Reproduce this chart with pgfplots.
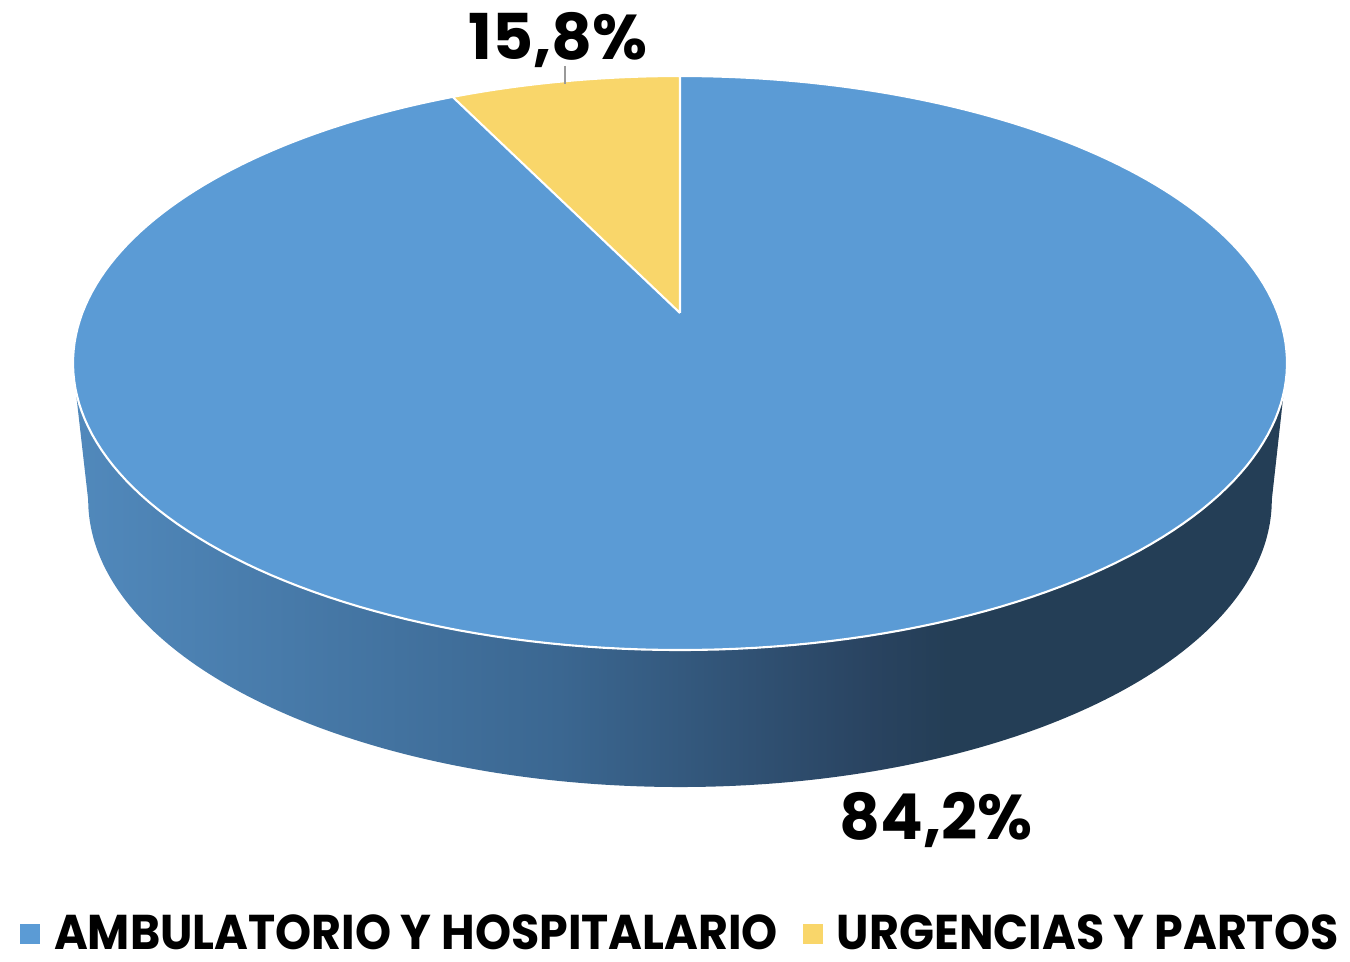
\documentclass[border=0pt]{standalone}
\usepackage{pgfplots}
\pgfplotsset{compat=1.18}
\usepackage{fontspec}
\setmainfont{Poppins}
\newfontfamily\legfont{Poppins}[FakeStretch=0.94]
\definecolor{pieblue}{HTML}{5B9BD5}
\definecolor{pieyellow}{HTML}{F9D66A}
\definecolor{wallA}{HTML}{5189BC}
\definecolor{wallB}{HTML}{3B6791}
\definecolor{wallC}{HTML}{294360}
\definecolor{wallD}{HTML}{243E56}
\pgfdeclarehorizontalshading{wall}{100bp}{color(0bp)=(wallA); color(25bp)=(wallA); color(45bp)=(wallB); color(58bp)=(wallC); color(61bp)=(wallD); color(100bp)=(wallD)}
% data: shares (percent) as labelled in the chart
\def\shareA{84,2}
\def\shareB{15,8}
% angle of the yellow slice as drawn in the picture (degrees)
\def\sliceang{26.1}
\begin{document}
\begin{tikzpicture}
\begin{axis}[
  width=135mm, height=95.5mm, scale only axis,
  xmin=0, xmax=1350, ymin=0, ymax=955,
  hide axis, clip=false,
  declare function={
    px(\t)=680+597.7*sin(\t)/(1+0.1743*cos(\t));
    py(\t)=642+278.3*cos(\t)/(1+0.1743*cos(\t));
    wt(\s)=(\s<180.5)?(100.04+\s*0.88844):(259.96-(\s-180)*0.88844);
  },
  legend image code/.code={\fill[#1] (0mm,-1mm) rectangle (2mm,1mm); \path (2.7mm,0);},
  legend columns=2,
  legend style={at={(0.01481,0.0215)}, anchor=west, draw=none, fill=none,
    inner sep=0pt, outer sep=0pt, font=\legfont\bfseries\fontsize{13.9}{15}\selectfont,
    cells={anchor=west, inner sep=0pt},
    /tikz/every even column/.append style={column sep=1.8mm}},
]
\addplot[draw=none, forget plot] coordinates {(0,0) (1350,955)};
% side wall
\addplot[forget plot, draw=none, shading=wall, domain=0:360, samples=361, variable=\s]
  ({(\s<180.5)?(680+0.975*(px(wt(\s))-680)):(px(wt(\s)))},
   {(\s<180.5)?(py(wt(\s))-137):(py(wt(\s)))});
% top face
\addplot[forget plot, fill=pieblue, draw=white, line width=0.6pt, domain=0:360, samples=241, variable=\t]
  ({px(\t)},{py(\t)});
% yellow slice
\addplot[forget plot, fill=pieyellow, draw=white, line width=0.6pt, domain=-1:27.1, samples=282, variable=\s]
  ({(\s<-0.05)?(680):((\s>26.15)?(680):(px(-min(\s,\sliceang))))},
   {(\s<-0.05)?(642):((\s>26.15)?(642):(py(-min(\s,\sliceang))))});
\addlegendimage{fill=pieblue, draw=none}
\addlegendentry{AMBULATORIO Y HOSPITALARIO}
\addlegendimage{fill=pieyellow, draw=none}
\addlegendentry{URGENCIAS Y PARTOS}
\draw[gray!80, line width=0.5pt] (axis cs:565,889) -- (axis cs:565,871);
\node[font=\bfseries\fontsize{18}{19}\selectfont, anchor=base, inner sep=0pt] at (axis cs:558,895) {\shareB\%};
\node[font=\bfseries\fontsize{18}{19}\selectfont, anchor=base, inner sep=0pt] at (axis cs:936,115) {\shareA\%};
\end{axis}
\end{tikzpicture}
\end{document}
